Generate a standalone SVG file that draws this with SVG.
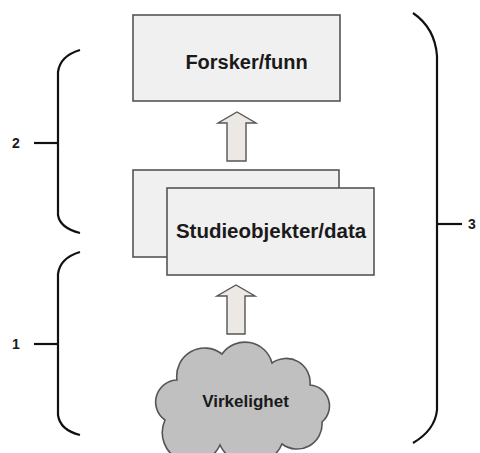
<svg xmlns="http://www.w3.org/2000/svg" width="480" height="453" viewBox="0 0 480 453">
  <defs>
    <style>
      .box { fill: #f0f0f0; stroke: #555; stroke-width: 1.6; }
      .arrow { fill: #ece9e4; stroke: #555; stroke-width: 1.4; stroke-linejoin: miter; }
      .cloud { fill: #c0c0c0; stroke: #555; stroke-width: 1.6; }
      .brace { fill: none; stroke: #111; stroke-width: 2.2; stroke-linecap: butt; }
      .label { font-family: "Liberation Sans", Arial, sans-serif; font-weight: bold; fill: #1a1a1a; text-anchor: middle; }
    </style>
  </defs>

  <rect width="480" height="453" fill="#ffffff"/>

  <!-- Researcher / findings -->
  <g id="forsker">
    <rect class="box" x="133" y="15" width="207" height="86"/>
    <text class="label" x="246.5" y="69" font-size="20">Forsker/funn</text>
  </g>

  <!-- Study objects / data: stacked sheets -->
  <g id="studieobjekter">
    <rect class="box" x="133" y="170" width="206" height="87"/>
    <rect class="box" x="167" y="188" width="207" height="87"/>
    <text class="label" x="271" y="238" font-size="20.5">Studieobjekter/data</text>
  </g>

  <!-- Reality -->
  <g id="virkelighet">
    <path class="cloud" d="M165,420
      A22,22 0 0 1 177,380
      A28,28 0 0 1 222,354
      A28,28 0 0 1 272,363
      A24,24 0 0 1 310,385
      A21,21 0 0 1 322,422
      A25,25 0 0 1 282,444
      A34,34 0 0 1 220,445
      A30,30 0 0 1 165,420 Z"/>
    <text class="label" x="245.5" y="407" font-size="17">Virkelighet</text>
  </g>

  <!-- Connectors: block arrows pointing upward -->
  <g id="connectors">
    <path class="arrow" d="M227,161 L227,123 L218,123 L237,112 L256,123 L246,123 L246,161 Z"/>
    <path class="arrow" d="M227,334 L227,296 L217,296 L236,285 L255,296 L245,296 L245,334 Z"/>
  </g>

  <!-- Brace 2 -->
  <g id="brace-2">
    <path class="brace" d="M80,50 Q60,56 58,72 L58,215 Q60,228 80,233"/>
    <line class="brace" x1="34" y1="143" x2="58" y2="143"/>
    <text class="label" x="16" y="148" font-size="14">2</text>
  </g>

  <!-- Brace 1 -->
  <g id="brace-1">
    <path class="brace" d="M80,252 Q60,258 58,274 L58,415 Q60,430 80,435"/>
    <line class="brace" x1="34" y1="344" x2="58" y2="344"/>
    <text class="label" x="16" y="349" font-size="14">1</text>
  </g>

  <!-- Brace 3 -->
  <g id="brace-3">
    <path class="brace" d="M413,13 Q435,28 437,56 L437,410 Q435,430 413,443"/>
    <line class="brace" x1="437" y1="224" x2="462" y2="224"/>
    <text class="label" x="472" y="229" font-size="14">3</text>
  </g>
</svg>
